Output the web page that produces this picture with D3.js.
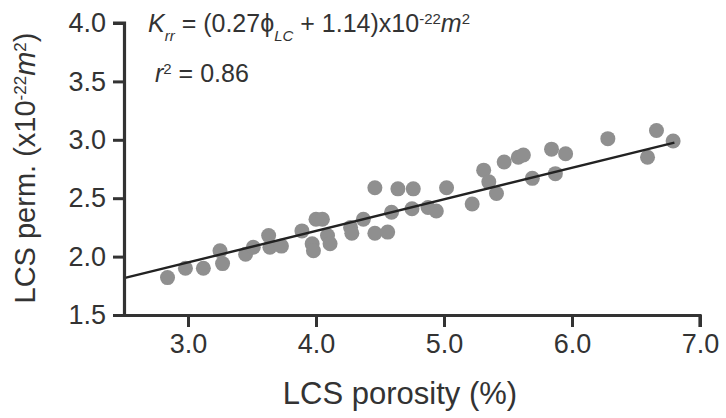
<!DOCTYPE html>
<html><head><meta charset="utf-8">
<script src="https://cdn.jsdelivr.net/npm/d3@7/dist/d3.min.js"></script>
<style>
body{margin:0;background:#fff;}
svg{display:block;font-family:"Liberation Sans",Arial,sans-serif;}
</style></head>
<body>
<svg id="chart" width="726" height="418"></svg>
<script>
// ---- data ----
const xDomain = [2.5, 7.0];
const yDomain = [1.5, 4.0];
const xTicks = [3.0, 4.0, 5.0, 6.0, 7.0];
const yTicks = [1.5, 2.0, 2.5, 3.0, 3.5, 4.0];
const porosity = [2.84, 2.98, 3.12, 3.25, 3.27, 3.45, 3.51, 3.63, 3.64, 3.73,
  3.89, 4.00, 4.05, 3.97, 3.98, 4.09, 4.11, 4.27, 4.28, 4.37,
  4.46, 4.46, 4.56, 4.59, 4.64, 4.76, 4.75, 4.875, 4.94, 5.02,
  5.22, 5.31, 5.35, 5.41, 5.47, 5.58, 5.62, 5.69, 5.84, 5.95,
  5.87, 6.28, 6.59, 6.66, 6.79];
const permeability = [1.82, 1.90, 1.90, 2.05, 1.94, 2.02, 2.08, 2.18, 2.08, 2.09,
  2.22, 2.32, 2.32, 2.11, 2.05, 2.18, 2.11, 2.25, 2.20, 2.32,
  2.59, 2.20, 2.21, 2.38, 2.58, 2.58, 2.41, 2.42, 2.39, 2.59,
  2.45, 2.74, 2.64, 2.54, 2.81, 2.85, 2.87, 2.67, 2.92, 2.88,
  2.71, 3.01, 2.85, 3.08, 2.99];
const fitSlope = 0.27, fitIntercept = 1.14;
const fitRange = [2.5, 6.8];
const rSquared = "0.86";

// ---- drawing ----
const svg = d3.select("#chart");
const x = d3.scaleLinear().domain(xDomain).range([124, 700]);
const y = d3.scaleLinear().domain(yDomain).range([315, 23]);
const axisColor = "#333";
const fs = 27;

// points
svg.append("g").selectAll("circle")
  .data(porosity.map((p, i) => [p, permeability[i]]))
  .join("circle")
  .attr("cx", d => x(d[0])).attr("cy", d => y(d[1]))
  .attr("r", 7.5).attr("fill", "#8f8f8f");

// fit line
svg.append("line")
  .attr("x1", x(fitRange[0])).attr("y1", y(fitSlope * fitRange[0] + fitIntercept))
  .attr("x2", x(fitRange[1])).attr("y2", y(fitSlope * fitRange[1] + fitIntercept))
  .attr("stroke", "#222").attr("stroke-width", 2.4);

// axes
const xAxis = svg.append("g").attr("transform", "translate(0,315)")
  .call(d3.axisBottom(x).tickValues(xTicks).tickFormat(d3.format(".1f")).tickSize(12).tickPadding(7));
const yAxis = svg.append("g").attr("transform", "translate(124,0)")
  .call(d3.axisLeft(y).tickValues(yTicks).tickFormat(d3.format(".1f")).tickSize(11).tickPadding(7));
[xAxis, yAxis].forEach(g => {
  g.select(".domain").attr("stroke", axisColor).attr("stroke-width", 3.2);
  g.selectAll(".tick line").attr("stroke", axisColor).attr("stroke-width", 3);
  g.selectAll(".tick text").attr("fill", axisColor).attr("font-size", fs)
    .attr("font-family", "Liberation Sans, Arial, sans-serif");
});
xAxis.select(".domain").attr("d", `M${x(xDomain[0]) - 4},0.5H${x(xDomain[1])}V12`);
yAxis.select(".domain").attr("d", `M-11,${y(yDomain[1])}H0.5V${y(yDomain[0])}`);

// axis titles
svg.append("text").attr("x", 400).attr("y", 404).attr("text-anchor", "middle")
  .attr("font-size", 31).attr("fill", axisColor).text("LCS porosity (%)");

const yl = svg.append("text").attr("transform", "translate(35,168) rotate(-90)")
  .attr("text-anchor", "middle").attr("font-size", 29).attr("fill", axisColor);
yl.append("tspan").text("LCS perm. (x10");
yl.append("tspan").attr("baseline-shift", "super").attr("font-size", 17).text("-22");
yl.append("tspan").attr("font-style", "italic").text("m");
yl.append("tspan").attr("baseline-shift", "super").attr("font-size", 17).text("2");
yl.append("tspan").text(")");

// equation annotation
const eq = svg.append("text").attr("x", 148).attr("y", 32)
  .attr("font-size", 25).attr("fill", axisColor);
eq.append("tspan").attr("font-style", "italic").text("K");
eq.append("tspan").attr("font-style", "italic").attr("baseline-shift", "sub").attr("font-size", 15).text("rr");
eq.append("tspan").text(" = (0.27");
eq.append("tspan").text("\u03D5");
eq.append("tspan").attr("font-style", "italic").attr("baseline-shift", "sub").attr("font-size", 15).text("LC");
eq.append("tspan").text(" + 1.14)x10");
eq.append("tspan").attr("baseline-shift", "super").attr("font-size", 15).text("-22");
eq.append("tspan").attr("font-style", "italic").text("m");
eq.append("tspan").attr("baseline-shift", "super").attr("font-size", 15).text("2");

const r2 = svg.append("text").attr("x", 155).attr("y", 82)
  .attr("font-size", 25).attr("fill", axisColor);
r2.append("tspan").attr("font-style", "italic").text("r");
r2.append("tspan").attr("baseline-shift", "super").attr("font-size", 15).text("2");
r2.append("tspan").text(" = " + rSquared);
</script>
</body></html>
